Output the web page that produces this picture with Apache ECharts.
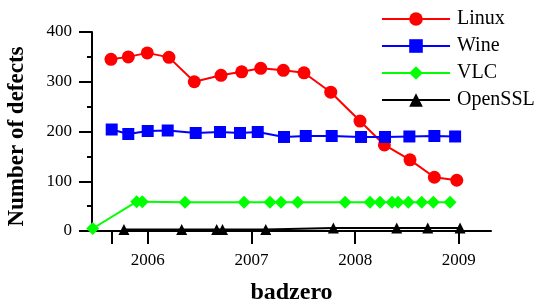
<!DOCTYPE html>
<html>
<head>
<meta charset="utf-8">
<script src="https://cdn.jsdelivr.net/npm/echarts@6/dist/echarts.min.js"></script>
<style>
  html, body { margin: 0; padding: 0; background: #fff; }
  #chart { width: 542px; height: 303px; }
</style>
</head>
<body>
<div id="chart"></div>
<script>
// dates are decimal years
const linuxDates = [2005.646, 2005.813, 2005.996, 2006.205, 2006.449, 2006.707, 2006.906, 2007.090,
  2007.308, 2007.507, 2007.765, 2008.047, 2008.282, 2008.529, 2008.764, 2008.980];
const linuxDefects = [345, 350, 358, 349, 300, 313, 320, 327, 323, 318, 279, 221, 173, 143, 108, 102];

const wineDates = [2005.653, 2005.813, 2006.0, 2006.193, 2006.463, 2006.697, 2006.89, 2007.061,
  2007.314, 2007.524, 2007.774, 2008.057, 2008.288, 2008.523, 2008.764, 2008.964];
const wineDefects = [204, 195, 201, 202, 197, 199, 197, 199, 189, 191, 191, 189, 189, 190, 191, 190];

const vlcDates = [2005.47, 2005.894, 2005.948, 2006.360, 2006.929, 2007.179, 2007.285, 2007.446,
  2007.903, 2008.144, 2008.240, 2008.356, 2008.414, 2008.513, 2008.642, 2008.754, 2008.915];
const vlcDefects = [5, 59, 59, 58, 58, 58, 58, 58, 58, 58, 58, 58, 58, 58, 58, 58, 58];

const opensslDates = [2005.771, 2006.328, 2006.665, 2006.721, 2007.138, 2007.79, 2008.401, 2008.70, 2009.012];
const opensslDefects = [3, 3, 3, 3, 3, 6, 6, 6, 6];

const yearTicks = [2005.65, 2006, 2007, 2008, 2009];
const yearLabels = [2006, 2007, 2008, 2009];

function pairs(xs, ys) {
  return xs.map((x, i) => [x, ys[i]]);
}

const font = '"Liberation Serif", "Times New Roman", serif';
const chart = echarts.init(document.getElementById('chart'));

function lineSeries(name, color, symbol, size, xs, ys) {
  return {
    name: name,
    type: 'line',
    data: pairs(xs, ys),
    symbol: symbol,
    symbolSize: size,
    color: color,
    lineStyle: { color: color, width: 2 },
    itemStyle: { color: color },
    animation: false
  };
}

const option = {
  textStyle: { fontFamily: font },
  legend: {
    orient: 'vertical',
    left: 376,
    top: 4,
    itemWidth: 68,
    itemHeight: 17,
    itemGap: 7,
    textStyle: { fontFamily: font, fontSize: 20, color: '#000', padding: [0, 0, 0, 2] },
    data: ['Linux', 'Wine', 'VLC', 'OpenSSL']
  },
  grid: { left: 92, right: 51, top: 32, bottom: 72, outerBoundsMode: 'none' },
  xAxis: {
    type: 'value',
    min: 2005.463,
    max: 2009.31,
    name: 'badzero',
    nameLocation: 'middle',
    nameGap: 50,
    nameTextStyle: { fontFamily: font, fontSize: 24, fontWeight: 'bold', color: '#000' },
    axisLine: { lineStyle: { color: '#000', width: 2 } },
    axisTick: { length: 13, lineStyle: { color: '#000', width: 2 }, customValues: yearTicks },
    axisLabel: {
      fontFamily: font, fontSize: 17, color: '#000', margin: 21,
      customValues: yearLabels,
      formatter: (v) => String(v)
    },
    splitLine: { show: false }
  },
  yAxis: {
    type: 'value',
    min: 0,
    max: 400,
    interval: 100,
    name: 'Number of defects',
    nameLocation: 'middle',
    nameGap: 63,
    nameTextStyle: { fontFamily: font, fontSize: 23, fontWeight: 'bold', color: '#000', padding: [0, 10, 0, 0] },
    axisLine: { show: true, lineStyle: { color: '#000', width: 2 } },
    axisTick: { show: true, length: 13, lineStyle: { color: '#000', width: 2 } },
    minorTick: { show: true, splitNumber: 2, length: 5, lineStyle: { color: '#000', width: 2 } },
    axisLabel: { fontFamily: font, fontSize: 17, color: '#000', margin: 20 },
    splitLine: { show: false }
  },
  series: [
    lineSeries('Linux', '#ff0000', 'circle', 13, linuxDates, linuxDefects),
    lineSeries('Wine', '#0000ff', 'rect', 12, wineDates, wineDefects),
    lineSeries('VLC', '#00ff00', 'diamond', 13, vlcDates, vlcDefects),
    lineSeries('OpenSSL', '#000000', 'triangle', 11, opensslDates, opensslDefects)
  ]
};

chart.setOption(option);
</script>
</body>
</html>
